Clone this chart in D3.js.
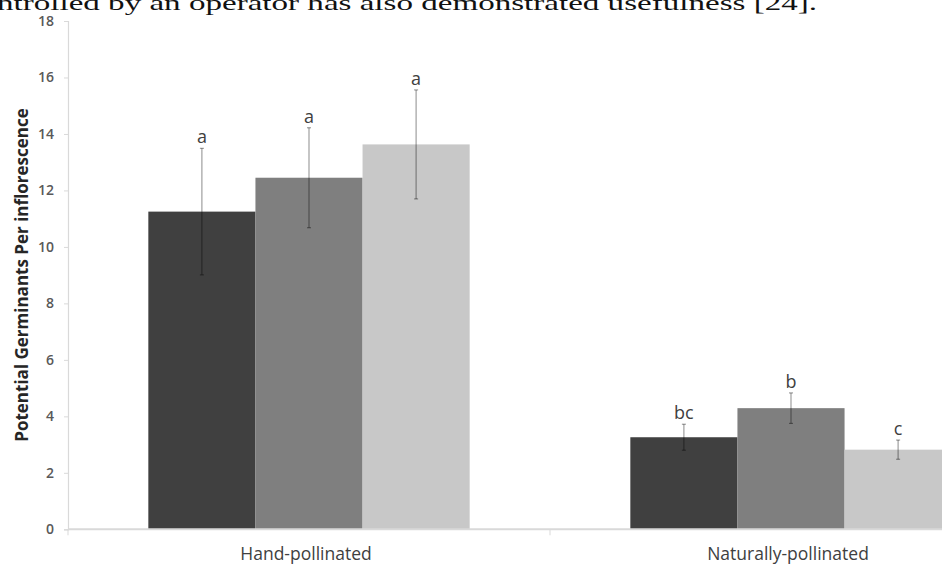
<!DOCTYPE html>
<html>
<head>
<meta charset="utf-8">
<script src="https://cdn.jsdelivr.net/npm/d3@7/dist/d3.min.js"></script>
<style>
  html, body { margin: 0; padding: 0; background: #fff; }
  svg { display: block; }
</style>
</head>
<body>
<svg id="chart" width="942" height="565"></svg>
<script>
// Pollination treatments (x categories) and the three series per treatment
const categories = ["Hand-pollinated", "Naturally-pollinated"];
const seriesNames = ["s1", "s2", "s3"];

// Mean potential germinants per inflorescence, per series, per category
const handMeans = [11.25, 12.45, 13.63];
const naturalMeans = [3.26, 4.29, 2.82];

// Standard errors shown as error bars
const handErrors = [2.24, 1.77, 1.93];
const naturalErrors = [0.46, 0.54, 0.34];

// Significance letters above each bar
const handLetters = ["a", "a", "a"];
const naturalLetters = ["bc", "b", "c"];

// Y axis ticks
const yTicks = [0, 2, 4, 6, 8, 10, 12, 14, 16, 18];

const seriesColors = ["#404040", "#7f7f7f", "#c8c8c8"];

const groups = [
  { cat: categories[0], means: handMeans, errs: handErrors, letters: handLetters },
  { cat: categories[1], means: naturalMeans, errs: naturalErrors, letters: naturalLetters }
];

const svg = d3.select("#chart");
const font = "'Open Sans', 'Noto Sans', sans-serif";

// Running text line above the figure
svg.append("text")
  .attr("x", -3)
  .attr("y", 9.5)
  .attr("font-family", "'Liberation Serif', 'DejaVu Serif', serif")
  .attr("font-size", 21)
  .attr("fill", "#111")
  .attr("textLength", 820)
  .attr("lengthAdjust", "spacingAndGlyphs")
  .text("ntrolled by an operator has also demonstrated usefulness [24].");

const axisX = 68;
const y = d3.scaleLinear().domain([0, 18]).range([529.3, 21]);

const x0 = d3.scaleBand()
  .domain(categories)
  .range([axisX, axisX + 2 * 482])
  .paddingInner(1 / 3)
  .paddingOuter(1 / 6);

const x1 = d3.scaleBand()
  .domain(seriesNames)
  .range([0, x0.bandwidth()]);

// Y axis
const yAxis = d3.axisLeft(y).tickValues(yTicks).tickSize(4).tickPadding(10);
const yg = svg.append("g").attr("transform", `translate(${axisX},0)`).call(yAxis);
yg.select(".domain").attr("stroke", "#d9d9d9").attr("stroke-width", 1.2);
yg.selectAll(".tick line").attr("stroke", "#d9d9d9");
yg.selectAll(".tick text")
  .attr("font-family", font)
  .attr("font-size", 14)
  .attr("font-weight", 600)
  .attr("fill", "#595959");

// Bars
const barG = svg.append("g");
groups.forEach(g => {
  const gx = x0(g.cat);
  seriesNames.forEach((s, i) => {
    const bx = gx + x1(s);
    const bw = x1.bandwidth();
    barG.append("rect")
      .attr("x", bx)
      .attr("y", y(g.means[i]))
      .attr("width", bw)
      .attr("height", y(0) - y(g.means[i]))
      .attr("fill", seriesColors[i]);
  });
});

// X axis baseline and category separators
const step = x0.step();
const xg = svg.append("g");
xg.append("line")
  .attr("x1", axisX).attr("x2", axisX + 2 * step)
  .attr("y1", y(0)).attr("y2", y(0))
  .attr("stroke", "#d9d9d9").attr("stroke-width", 2);
[0, 1, 2].forEach(k => {
  xg.append("line")
    .attr("x1", axisX + k * step).attr("x2", axisX + k * step)
    .attr("y1", y(0)).attr("y2", y(0) + 6)
    .attr("stroke", "#d9d9d9").attr("stroke-width", 1);
});
xg.selectAll("text.cat")
  .data(categories)
  .enter().append("text")
  .attr("class", "cat")
  .attr("x", d => x0(d) + x0.bandwidth() / 2 - 3)
  .attr("y", 560)
  .attr("text-anchor", "middle")
  .attr("font-family", font)
  .attr("font-size", 17.5)
  .attr("fill", "#404040")
  .text(d => d);

// Error bars and letters
const errG = svg.append("g");
groups.forEach(g => {
  const gx = x0(g.cat);
  seriesNames.forEach((s, i) => {
    const cx = gx + x1(s) + x1.bandwidth() / 2;
    const hi = g.means[i] + g.errs[i];
    const lo = g.means[i] - g.errs[i];
    errG.append("line")
      .attr("x1", cx).attr("x2", cx)
      .attr("y1", y(hi)).attr("y2", y(lo))
      .attr("stroke", "#000").attr("stroke-opacity", 0.38).attr("stroke-width", 1.2);
    [hi, lo].forEach(v => {
      errG.append("line")
        .attr("x1", cx - 2).attr("x2", cx + 2)
        .attr("y1", y(v)).attr("y2", y(v))
        .attr("stroke", "#000").attr("stroke-opacity", 0.38).attr("stroke-width", 1.2);
    });
    errG.append("text")
      .attr("x", cx)
      .attr("y", y(hi) - 5)
      .attr("text-anchor", "middle")
      .attr("font-family", font)
      .attr("font-size", 18)
      .attr("fill", "#404040")
      .text(g.letters[i]);
  });
});

// Y axis title
svg.append("text")
  .attr("transform", `translate(28,${275}) rotate(-90)`)
  .attr("text-anchor", "middle")
  .attr("font-family", font)
  .attr("font-size", 17)
  .attr("font-weight", 700)
  .attr("fill", "#262626")
  .text("Potential Germinants Per inflorescence");
</script>
</body>
</html>
